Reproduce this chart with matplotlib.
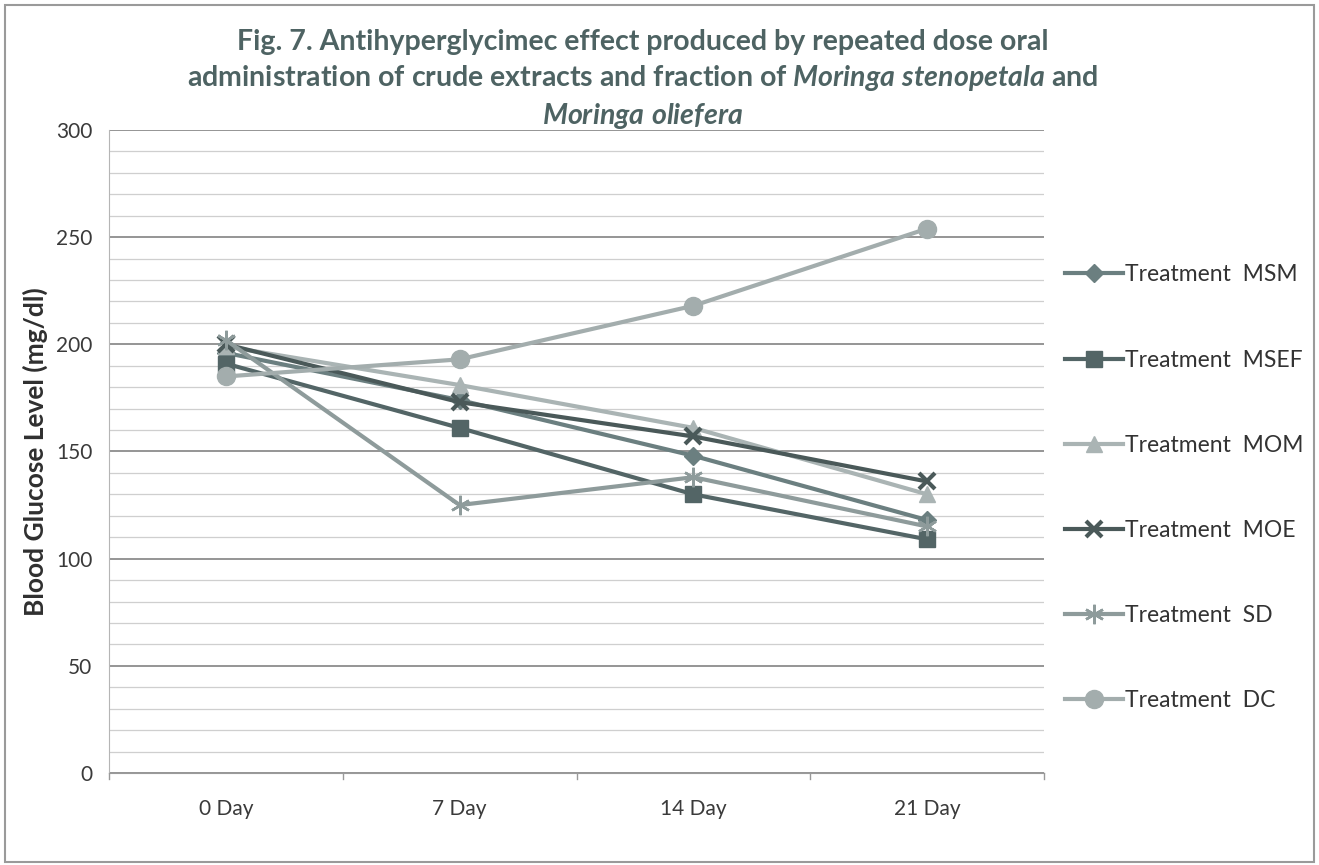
import matplotlib
matplotlib.use("Agg")
from matplotlib import pyplot as plt
from matplotlib.patches import Rectangle

# blood glucose (mg/dl) per treatment group
days = ["0 Day", "7 Day", "14 Day", "21 Day"]
msm = [196, 174, 148, 118]
msef = [191, 161, 130, 109]
mom = [199, 181, 161, 130]
moe = [200, 173, 157, 136]
sd = [202, 125, 138, 115]
dc = [185, 193, 218, 254]

plt.rcParams['font.family'] = ['Lato', 'DejaVu Sans']
plt.rcParams['mathtext.fontset'] = 'custom'
plt.rcParams['mathtext.rm'] = 'Lato:bold'
plt.rcParams['mathtext.it'] = 'Lato:italic:bold'

fig = plt.figure(figsize=(13.19, 8.65), dpi=100)
ax = fig.add_axes([0.0826, 0.1064, 0.709, 0.7433])

series = [
    ("Treatment  MSM", msm, "D", "#6b7f80", 9, 1.0),
    ("Treatment  MSEF", msef, "s", "#536566", 11, 1.0),
    ("Treatment  MOM", mom, "^", "#aab4b4", 11, 1.0),
    ("Treatment  MOE", moe, "x", "#4a5959", 12, 3.0),
    ("Treatment  SD", sd, (6, 2, 0), "#8e9b9b", 14, 1.8),
    ("Treatment  DC", dc, "o", "#a3adad", 13, 1.0),
]

x = range(len(days))
for label, vals, mk, col, ms, mew in series:
    ax.plot(x, vals, color=col, lw=3, marker=mk, markersize=ms,
            markeredgewidth=mew, markeredgecolor=col, markerfacecolor=col,
            label=label, zorder=3)

ax.set_xlim(-0.5, 3.5)
ax.set_ylim(0, 300)
ax.set_xticks(list(x))
ax.set_xticklabels(days)
ax.set_yticks(range(0, 301, 50))
ax.set_yticks(range(0, 301, 10), minor=True)
ax.tick_params(axis='both', labelsize=15, colors='#3a3a3a', length=0)
ax.tick_params(axis='x', pad=19)
ax.tick_params(axis='y', pad=12)
ax.tick_params(axis='y', which='minor', length=0)

# category boundary ticks on the x axis
for b in [-0.5, 0.5, 1.5, 2.5, 3.5]:
    ax.plot([b, b], [0, -3], color='#999999', lw=1, clip_on=False)

ax.grid(axis='y', which='major', color='#8c8c8c', lw=1.3, zorder=0)
ax.grid(axis='y', which='minor', color='#cfcfcf', lw=0.9, zorder=0)
for side in ['top', 'right']:
    ax.spines[side].set_visible(False)
ax.spines['left'].set_color('#b5b5b5')
ax.spines['bottom'].set_color('#9a9a9a')

ax.set_ylabel("Blood Glucose Level (mg/dl)", fontsize=19, fontweight='bold',
              color='#2f2f2f', labelpad=6)

title = ("Fig. 7. Antihyperglycimec effect produced by repeated dose oral\n"
         r"administration of crude extracts and fraction of $\mathit{Moringa\ stenopetala}$ and"
         "\n"
         r"$\mathit{Moringa\ oliefera}$")
fig.text(0.487, 0.966, title, ha='center', va='top', fontsize=20.5,
         fontweight='bold', color='#4e6363', linespacing=1.33)

fig.legend(loc='center left', bbox_to_anchor=(0.792, 0.436), frameon=False,
           fontsize=16.5, labelspacing=2.8, handlelength=2.5, handletextpad=0.1,
           labelcolor='#333333')

fig.patches.append(Rectangle((0.004, 0.004), 0.992, 0.99, transform=fig.transFigure,
                             fill=False, edgecolor='#9a9a9a', lw=1.5))

fig.savefig("out.png", dpi=100)
